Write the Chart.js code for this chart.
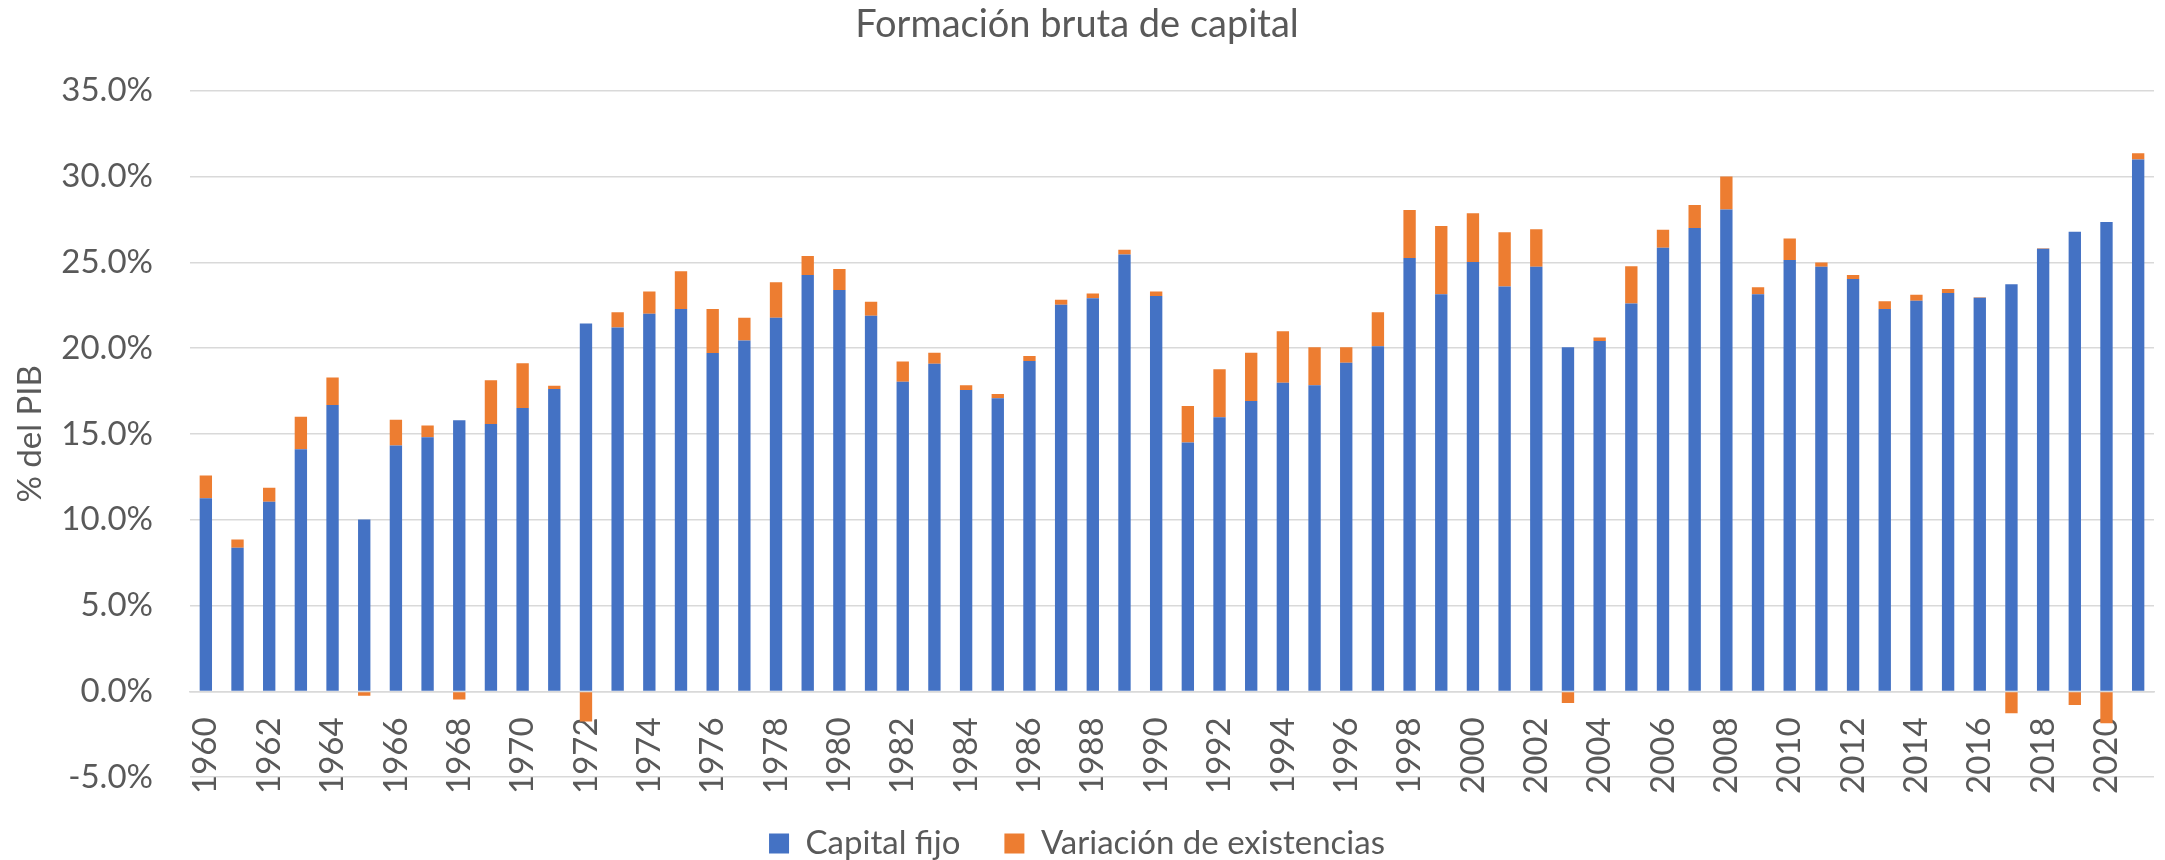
<!DOCTYPE html>
<html>
<head>
<meta charset="utf-8">
<title>Formación bruta de capital</title>
<script src="https://cdn.jsdelivr.net/npm/chart.js@4.4.1/dist/chart.umd.min.js"></script>
<style>
  html, body { margin: 0; padding: 0; background: #fff; overflow: hidden; }
  #wrap { width: 2165px; height: 860px; }
</style>
</head>
<body>
<div id="wrap"><canvas id="fbcChart" width="2165" height="860"></canvas></div>
<script>
// years on the category axis
const years = [
  '1960','1961','1962','1963','1964','1965','1966','1967','1968','1969',
  '1970','1971','1972','1973','1974','1975','1976','1977','1978','1979',
  '1980','1981','1982','1983','1984','1985','1986','1987','1988','1989',
  '1990','1991','1992','1993','1994','1995','1996','1997','1998','1999',
  '2000','2001','2002','2003','2004','2005','2006','2007','2008','2009',
  '2010','2011','2012','2013','2014','2015','2016','2017','2018','2019',
  '2020','2021'
];

// % del PIB
const capitalFijo = [
  11.25, 8.37, 11.05, 14.11, 16.68, 10.01, 14.33, 14.81, 15.80, 15.58,
  16.51, 17.61, 21.43, 21.20, 22.00, 22.28, 19.71, 20.44, 21.77, 24.26,
  23.38, 21.88, 18.04, 19.08, 17.56, 17.08, 19.25, 22.53, 22.90, 25.45,
  23.04, 14.50, 15.97, 16.91, 17.98, 17.84, 19.14, 20.10, 25.25, 23.13,
  25.02, 23.58, 24.74, 20.05, 20.41, 22.59, 25.84, 27.00, 28.07, 23.13,
  25.13, 24.74, 24.03, 22.28, 22.76, 23.21, 22.93, 23.72, 25.78, 26.77,
  27.34, 30.99
];

const variacionExistencias = [
  1.33, 0.48, 0.82, 1.89, 1.61, -0.25, 1.50, 0.68, -0.48, 2.54,
  2.60, 0.20, -1.75, 0.88, 1.30, 2.20, 2.57, 1.33, 2.06, 1.10,
  1.22, 0.82, 1.18, 0.65, 0.28, 0.25, 0.29, 0.29, 0.28, 0.28,
  0.26, 2.12, 2.80, 2.82, 3.00, 2.21, 0.91, 1.98, 2.80, 3.98,
  2.83, 3.17, 2.18, -0.68, 0.20, 2.18, 1.05, 1.33, 1.93, 0.42,
  1.25, 0.25, 0.23, 0.45, 0.34, 0.23, 0.03, -1.27, 0.03, -0.79,
  -1.85, 0.36
];

const yTicks = { min: -5, max: 35, step: 5 };

const textColor = '#595959';
const gridColor = '#d9d9d9';
const fontFamily = 'Lato, "Open Sans", sans-serif';

const canvas = document.getElementById('fbcChart');

new Chart(canvas, {
  type: 'bar',
  data: {
    labels: years,
    datasets: [
      {
        label: 'Capital fijo',
        data: capitalFijo,
        backgroundColor: '#4472C4',
        borderWidth: 0,
        barPercentage: 0.39,
        categoryPercentage: 1.0
      },
      {
        label: 'Variación de existencias',
        data: variacionExistencias,
        backgroundColor: '#ED7D31',
        borderWidth: 0,
        barPercentage: 0.39,
        categoryPercentage: 1.0
      }
    ]
  },
  options: {
    responsive: false,
    animation: false,
    layout: { padding: { left: 0, right: 11, top: 0, bottom: -10 } },
    plugins: {
      title: {
        display: true,
        text: 'Formación bruta de capital',
        color: textColor,
        font: { family: fontFamily, size: 38, weight: 'normal', lineHeight: 1.2 },
        padding: { top: 2, bottom: 43 }
      },
      legend: {
        position: 'bottom',
        // empty title only used to push the legend row down
        title: { display: true, text: '', font: { size: 1, lineHeight: 1.2 }, padding: { top: 0, bottom: 4.6 } },
        labels: {
          color: textColor,
          font: { family: fontFamily, size: 33 },
          boxWidth: 20,
          boxHeight: 20,
          padding: 44
        }
      },
      tooltip: { enabled: false }
    },
    scales: {
      x: {
        stacked: true,
        position: { y: 0 },
        // labels hang below the zero line, keep them from shrinking the plot
        afterFit: (scale) => { scale.paddingLeft = 0; scale.paddingRight = 0; },
        grid: { display: false, drawTicks: false },
        border: { display: true, color: gridColor, width: 1.5 },
        ticks: {
          color: textColor,
          font: { family: fontFamily, size: 33 },
          autoSkip: false,
          minRotation: 90,
          maxRotation: 90,
          padding: 26,
          callback: (v, i) => (i % 2 === 0 ? years[i] : '')
        }
      },
      y: {
        stacked: true,
        min: yTicks.min,
        max: yTicks.max,
        afterFit: (scale) => { scale.width = 190; },
        grid: { color: gridColor, lineWidth: 1.5, drawTicks: false },
        border: { display: false },
        ticks: {
          stepSize: yTicks.step,
          color: textColor,
          font: { family: fontFamily, size: 33 },
          padding: 37,
          callback: (v) => v.toFixed(1) + '%'
        },
        title: {
          display: true,
          text: '% del PIB',
          color: textColor,
          font: { family: fontFamily, size: 33 },
          padding: { top: 11, bottom: 0 }
        }
      }
    }
  }
});
</script>
</body>
</html>
